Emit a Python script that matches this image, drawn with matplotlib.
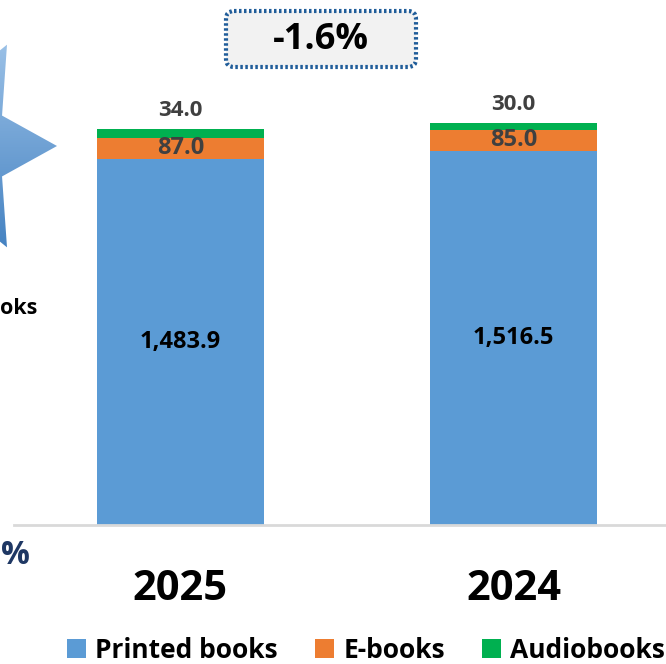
"""
Stacked bars: book sales by format, 2025 vs 2024
"""
import matplotlib
matplotlib.use("Agg")
import matplotlib.pyplot as plt
import numpy as np
from matplotlib.patches import Polygon, FancyBboxPatch

plt.rcParams["font.family"] = ["Open Sans", "DejaVu Sans"]

years = ["2025", "2024"]
printed = [1483.9, 1516.5]
ebooks = [87.0, 85.0]
audiobooks = [34.0, 30.0]
series_names = ["Printed books", "E-books", "Audiobooks"]
change_label = "-1.6%"

C_PRINT = "#5b9bd5"
C_EBOOK = "#ed7d31"
C_AUDIO = "#00b050"

W, H = 666, 664
fig = plt.figure(figsize=(W / 100, H / 100), dpi=100)

# background layer in pixel coords (fragment of neighbouring graphic on the left)
bg = fig.add_axes([0, 0, 1, 1], zorder=0)
cx, cy, rx, ry, r_in = -43, 146, 100, 117, 0.52
pts = []
for k in range(12):
    ang = np.deg2rad(k * 30)
    f = 1.0 if k % 2 == 0 else r_in
    pts.append((cx + f * rx * np.cos(ang), cy - f * ry * np.sin(ang)))
star = Polygon(pts, closed=True, facecolor="none", edgecolor="none")
bg.add_patch(star)
grad = np.linspace(0, 1, 256).reshape(-1, 1)
img = bg.imshow(grad, cmap=matplotlib.colors.LinearSegmentedColormap.from_list(
    "g", ["#a2c6ea", "#3c7cbe"]), extent=(-170, 60, 270, 25), aspect="auto", zorder=1)
img.set_clip_path(star)
bg.set_xlim(0, W); bg.set_ylim(H, 0); bg.axis("off")
bg.text(0, 308, "oks", ha="left", va="center", fontsize=15.5,
        fontweight="bold", color="black")
bg.text(1, 556, "%", ha="left", va="center", fontsize=23,
        fontweight="bold", color="#1f3864")

# main chart
ax = fig.add_axes([14 / W, (H - 525) / H, 666 / W, 525 / H], zorder=2)
ax.patch.set_alpha(0)
x = np.arange(len(years))
bw = 0.5
bottom2 = np.array(printed) + np.array(ebooks)
ax.bar(x, printed, bw, color=C_PRINT, label=series_names[0], zorder=2)
ax.bar(x, ebooks, bw, bottom=printed, color=C_EBOOK, label=series_names[1], zorder=2)
ax.bar(x, audiobooks, bw, bottom=bottom2, color=C_AUDIO, label=series_names[2], zorder=2)
ax.set_xlim(-0.5, 1.5)
ax.set_ylim(0, 2128.5)
for s in ["top", "right", "left"]:
    ax.spines[s].set_visible(False)
ax.spines["bottom"].set_color("#d9d9d9")
ax.spines["bottom"].set_linewidth(2)
ax.set_yticks([])
ax.set_xticks(x)
ax.set_xticklabels(years, fontsize=30, fontweight="bold")
ax.tick_params(axis="x", length=0, pad=32)

for i in range(len(years)):
    ax.text(x[i], printed[i] / 2, f"{printed[i]:,.1f}", ha="center", va="center",
            fontsize=17, fontweight="bold", color="black")
    ax.text(x[i], printed[i] + ebooks[i] / 2, f"{ebooks[i]:.1f}", ha="center", va="center",
            fontsize=17, fontweight="bold", color="#404040")
    ax.text(x[i], bottom2[i] + audiobooks[i] + 75, f"{audiobooks[i]:.1f}", ha="center",
            va="center", fontsize=16, fontweight="bold", color="#404040")

# change badge
ov = fig.add_axes([0, 0, 1, 1], zorder=3)
ov.set_xlim(0, W); ov.set_ylim(H, 0); ov.axis("off")
box = FancyBboxPatch((226, 11), 190, 56, boxstyle="round,pad=0,rounding_size=8",
                     facecolor="#f2f2f2", edgecolor="#1f5c99", linewidth=3,
                     linestyle=(0, (0.6, 0.6)))
ov.add_patch(box)
ov.text(321, 40, change_label, ha="center", va="center", fontsize=26,
        fontweight="bold", color="black")

leg = fig.legend(loc="center", bbox_to_anchor=(366 / W, 1 - 650 / H), ncol=3,
                 frameon=False, fontsize=19, handlelength=0.72, handleheight=0.72,
                 handletextpad=0.35, columnspacing=1.4, borderaxespad=0)
for t in leg.get_texts():
    t.set_fontweight("bold")

fig.savefig("out.png", dpi=100)
